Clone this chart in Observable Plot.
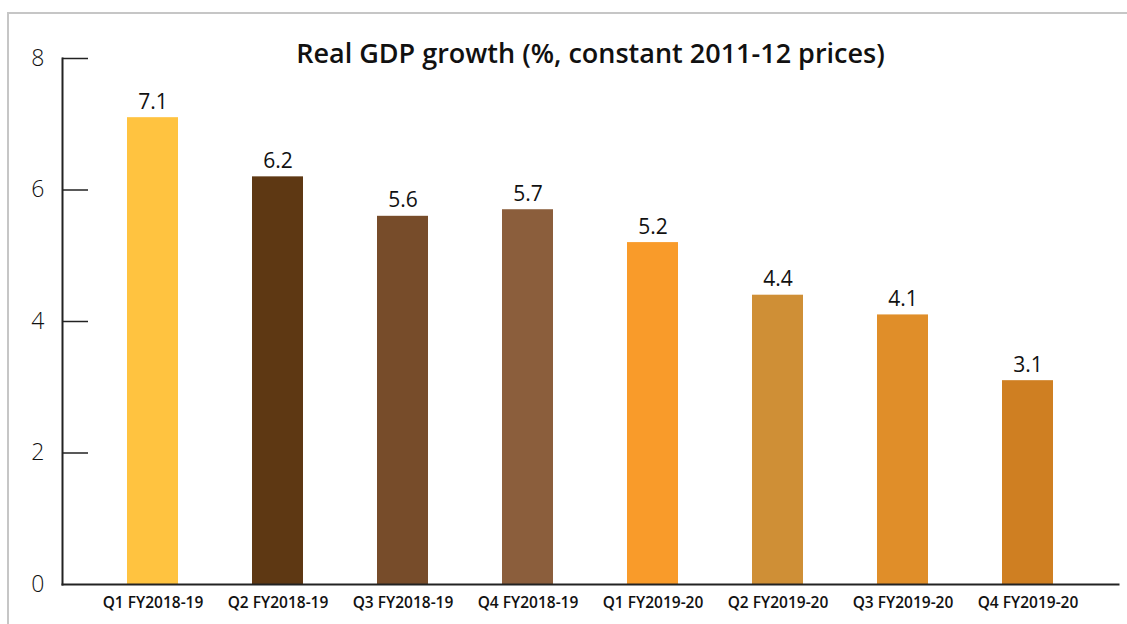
<!DOCTYPE html>
<html>
<head>
<meta charset="utf-8">
<script src="https://cdn.jsdelivr.net/npm/d3@7"></script>
<script src="https://cdn.jsdelivr.net/npm/@observablehq/plot@0.6"></script>
<style>
  html, body { margin: 0; padding: 0; background: #fff; }
  #wrap { position: relative; width: 1127px; height: 624px; overflow: hidden; }
  #border { position: absolute; left: 7px; top: 12px; width: 1200px; height: 700px;
            border-top: 2px solid #c6c6c6; border-left: 2px solid #c6c6c6; }
  #chart { position: absolute; left: 0; top: 0; }
</style>
</head>
<body>
<div id="wrap"><div id="border"></div><div id="chart"></div></div>
<script>
const title = "Real GDP growth (%, constant 2011-12 prices)";
const quarters = ["Q1 FY2018-19", "Q2 FY2018-19", "Q3 FY2018-19", "Q4 FY2018-19",
                  "Q1 FY2019-20", "Q2 FY2019-20", "Q3 FY2019-20", "Q4 FY2019-20"];
const growth = [7.1, 6.2, 5.6, 5.7, 5.2, 4.4, 4.1, 3.1];
const colors = ["#FFC340", "#5E3813", "#774C2A", "#8B5E3C", "#F99B2A", "#CF8F36", "#E08E29", "#CF7F22"];
const yTicks = [0, 2, 4, 6, 8];

const data = quarters.map((q, i) => ({q, v: growth[i], c: colors[i]}));

const font = "'Open Sans', Lato, sans-serif";

const chart = Plot.plot({
  width: 1127,
  height: 624,
  marginTop: 58,
  marginBottom: 40,
  marginLeft: 62,
  marginRight: 9,
  style: {fontFamily: font, background: "transparent", color: "#111"},
  x: {domain: quarters, paddingInner: 0.594, paddingOuter: 0.5, label: null},
  y: {domain: [0, 8], label: null},
  marks: [
    Plot.barY(data, {x: "q", y: "v", fill: "c"}),
    Plot.text(data, {x: "q", y: "v", text: d => d.v.toFixed(1), lineAnchor: "bottom", dy: -9,
      fontSize: 21, fill: "#111", fontWeight: 400}),
    Plot.frame({anchor: "left", stroke: "#222", strokeWidth: 2}),
    Plot.frame({anchor: "bottom", stroke: "#222", strokeWidth: 2}),
    Plot.axisY(yTicks.filter(d => d > 0), {anchor: "left", tickSize: 26, dx: 26, text: null, stroke: "#222", strokeWidth: 1.5}),
    Plot.axisY(yTicks, {anchor: "left", tickSize: 0, tickPadding: 18, tickFormat: d => String(d),
      fontSize: 23, fontWeight: 300, fill: "#111"}),
    Plot.axisX({anchor: "bottom", tickSize: 0, tickPadding: 12, fontSize: 15.5, fontWeight: 600, fill: "#111"}),
    Plot.text([title], {frameAnchor: "top", lineAnchor: "bottom", dy: 4, fontSize: 27, fontWeight: 600, fill: "#111"})
  ]
});
document.getElementById("chart").appendChild(chart);
</script>
</body>
</html>
